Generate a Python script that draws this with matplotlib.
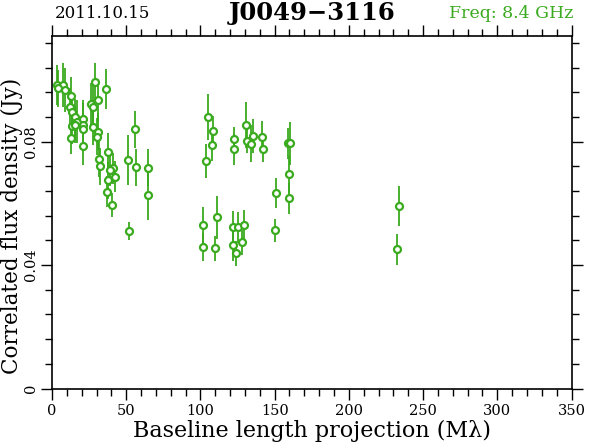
import numpy as np
import matplotlib
matplotlib.use("Agg")
from matplotlib import pyplot as plt
from matplotlib.ticker import MultipleLocator

# baseline length projection (Mlambda), correlated flux (Jy), error (Jy)
baseline = [3.4, 7.4, 4.0, 8.8, 12.6, 12.1, 13.7, 15.5, 16.8, 21.1,
            21.1, 21.1, 13.3, 15.5, 12.6, 21.1, 29.0, 36.2, 26.1, 27.4,
            31.2, 27.8, 31.2, 30.5, 37.4, 31.9, 32.3, 41.3, 39.1, 42.3,
            37.9, 37.3, 40.6, 51.4, 56.8, 64.5, 64.5, 52.1, 55.9,
            105.3, 108.3, 107.6, 103.8, 130.7, 135.2, 131.6, 134.1, 122.6, 122.6,
            141.7, 142.2, 158.8, 160.3, 159.9, 159.9, 150.7, 150.2,
            233.8, 232.4,
            101.9, 101.9, 111.0, 110.0, 122.1, 125.1, 129.4, 122.1, 128.2, 124.3]
flux = [0.0984, 0.0984, 0.0974, 0.0968, 0.0949, 0.0913, 0.0895, 0.0880, 0.0865, 0.0874,
        0.0856, 0.0843, 0.0852, 0.0856, 0.0811, 0.0786, 0.0994, 0.0971, 0.0921, 0.0913,
        0.0934, 0.0849, 0.0832, 0.0816, 0.0768, 0.0745, 0.0721, 0.0714, 0.0708, 0.0687,
        0.0676, 0.0638, 0.0595, 0.0741, 0.0717, 0.0716, 0.0627, 0.0511, 0.0841,
        0.0881, 0.0835, 0.0789, 0.0737, 0.0854, 0.0820, 0.0803, 0.0793, 0.0808, 0.0775,
        0.0816, 0.0775, 0.0795, 0.0795, 0.0695, 0.0617, 0.0633, 0.0513,
        0.0592, 0.0451,
        0.0530, 0.0460, 0.0555, 0.0455, 0.0524, 0.0523, 0.0530, 0.0465, 0.0474, 0.0438]
err = [0.0065, 0.007, 0.006, 0.007, 0.006, 0.006, 0.006, 0.006, 0.007, 0.006,
       0.007, 0.007, 0.006, 0.006, 0.005, 0.006, 0.006, 0.0065, 0.007, 0.007,
       0.007, 0.006, 0.006, 0.006, 0.006, 0.006, 0.006, 0.005, 0.005, 0.005,
       0.006, 0.005, 0.004, 0.008, 0.006, 0.006, 0.008, 0.003, 0.006,
       0.0075, 0.005, 0.005, 0.0055, 0.0075, 0.0055, 0.004, 0.006, 0.004, 0.005,
       0.005, 0.004, 0.005, 0.007, 0.006, 0.005, 0.0048, 0.0037,
       0.0065, 0.005,
       0.006, 0.0045, 0.007, 0.004, 0.005, 0.005, 0.005, 0.005, 0.004, 0.004]

green = '#3aaa1e'
W, H = 590, 443

plt.rcParams['font.family'] = ['DejaVu Serif']
fig = plt.figure(figsize=(W / 100, H / 100), dpi=100)
ax = fig.add_axes([52 / W, 1 - 388.5 / H, (571.5 - 52) / W, (388.5 - 36) / H])

ax.errorbar(baseline, flux, yerr=err, fmt='o', color=green, ecolor=green,
            elinewidth=1.3, capsize=0, markersize=5, markerfacecolor='white',
            markeredgecolor=green, markeredgewidth=1.6)

ax.set_xlim(0, 350)
ax.set_ylim(0, 0.1143)
ax.xaxis.set_major_locator(MultipleLocator(50))
ax.xaxis.set_minor_locator(MultipleLocator(10))
ax.yaxis.set_major_locator(MultipleLocator(0.04))
ax.yaxis.set_minor_locator(MultipleLocator(0.008))
ax.tick_params(which='both', direction='out', top=True, right=True,
               width=1, colors='black', labelsize=10.5)
ax.tick_params(which='major', length=8)
ax.tick_params(which='minor', length=5)
ax.tick_params(axis='y', pad=2)
ax.yaxis.set_major_formatter(plt.FuncFormatter(lambda v, p: '0' if v == 0 else '%.2f' % v))
for lab in ax.get_yticklabels():
    lab.set_rotation(90)
    lab.set_va('center')
for s in ax.spines.values():
    s.set_linewidth(1.2)

ax.set_xlabel('Baseline length projection (M\u03bb)', fontsize=16, labelpad=1)

fig.text(12 / W, 1 - 226 / H, 'Correlated flux density (Jy)', fontsize=15.5,
         rotation=90, ha='center', va='center')
fig.text(55 / W, 1 - 14 / H, '2011.10.15', fontsize=12, ha='left', va='center')
fig.text(312 / W, 1 - 13 / H, 'J0049\u22123116', fontsize=17.5, fontweight='bold',
         ha='center', va='center')
fig.text(573 / W, 1 - 14 / H, 'Freq: 8.4 GHz', fontsize=12.5, color=green,
         ha='right', va='center')

fig.savefig('out.png', dpi=100)
